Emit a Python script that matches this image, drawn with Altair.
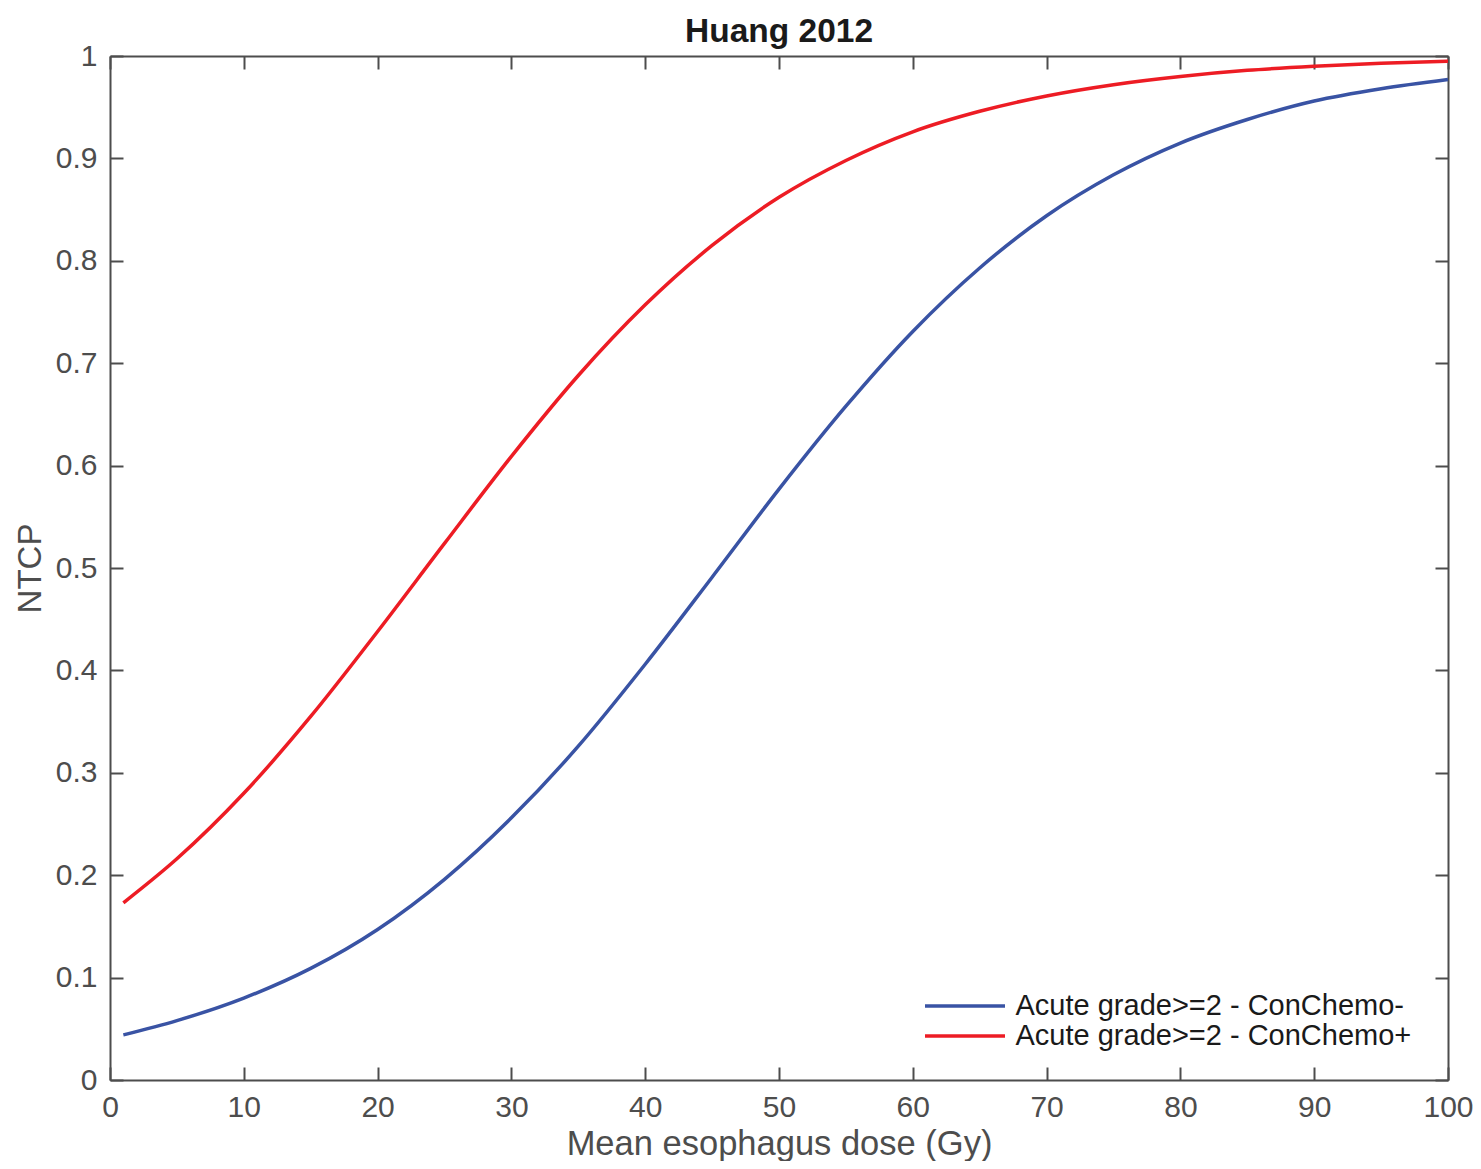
import altair as alt
import pandas as pd

# Mean esophagus dose (Gy)
dose = [1, 5, 10, 15, 20, 25, 30, 35, 40, 45, 50, 55, 60, 65, 70, 75, 80, 85, 90, 95, 100]
# NTCP
ntcp_minus = [0.044, 0.058, 0.080, 0.109, 0.147, 0.196, 0.256, 0.326, 0.406, 0.491, 0.577,
              0.658, 0.731, 0.793, 0.844, 0.884, 0.915, 0.938, 0.956, 0.968, 0.977]
ntcp_plus = [0.173, 0.216, 0.280, 0.355, 0.438, 0.524, 0.609, 0.688, 0.757, 0.815, 0.862,
             0.898, 0.926, 0.946, 0.961, 0.972, 0.980, 0.986, 0.990, 0.993, 0.995]
series_names = ["Acute grade>=2 - ConChemo-", "Acute grade>=2 - ConChemo+"]
series_colors = ["#3953a4", "#ed1c24"]
x_ticks = [0, 10, 20, 30, 40, 50, 60, 70, 80, 90, 100]
y_ticks = [0, 0.1, 0.2, 0.3, 0.4, 0.5, 0.6, 0.7, 0.8, 0.9, 1]
chart_title = ["Huang 2012"]

rows = []
for name, vals in zip(series_names, [ntcp_minus, ntcp_plus]):
    for d, v in zip(dose, vals):
        rows.append({"dose": d, "ntcp": v, "series": name})
df = pd.DataFrame(rows)

W, H = 1338, 1024
FONT = "Liberation Sans"
AX = "#4d4d4d"

common_axis = dict(grid=False, tickSize=13, tickWidth=2, tickColor=AX,
                   domainColor=AX, domainWidth=2, labelFont=FONT, labelFontSize=30,
                   labelColor=AX, titleFont=FONT, titleColor=AX,
                   titleFontWeight="normal", labelOverlap=False, labelFlush=False,
                   labelBound=False)

xscale = alt.Scale(domain=[0, 100], nice=False, zero=False)
yscale = alt.Scale(domain=[0, 1], nice=False, zero=False)

lines = alt.Chart(df).mark_line(strokeWidth=3.5, interpolate="monotone").encode(
    x=alt.X("dose:Q", scale=xscale,
            axis=alt.Axis(orient="top", offset=-H, values=x_ticks, format="d",
                          labelPadding=-49, labelBaseline="alphabetic",
                          title="Mean esophagus dose (Gy)", titleY=74, titleFontSize=34.5,
                          titleBaseline="alphabetic", **common_axis)),
    y=alt.Y("ntcp:Q", scale=yscale,
            axis=alt.Axis(orient="right", offset=-W, values=y_ticks, format="~g",
                          labelPadding=-26, labelAlign="right", labelBaseline="middle",
                          title="NTCP", titleX=-70, titleY=H / 2, titleAngle=270,
                          titleFontSize=33, titleAlign="center",
                          titleBaseline="alphabetic", **common_axis)),
    color=alt.Color("series:N",
                    scale=alt.Scale(domain=series_names, range=series_colors),
                    legend=alt.Legend(title=None, orient="none", legendX=840.5, legendY=935.5,
                                      symbolType="M-4,0H4", symbolSize=400,
                                      symbolStrokeWidth=3.5, labelFont=FONT,
                                      labelFontSize=29, labelColor="#1a1a1a",
                                      labelLimit=0, labelOffset=36, rowPadding=0,
                                      padding=0)),
)

frame = alt.Chart(df).mark_line(opacity=0).encode(
    x=alt.X("dose:Q", scale=xscale,
            axis=alt.Axis(orient="bottom", offset=-H, values=x_ticks, labels=False,
                          title=None, **common_axis)),
    y=alt.Y("ntcp:Q", scale=yscale,
            axis=alt.Axis(orient="left", offset=-W, values=y_ticks, labels=False,
                          title=None, **common_axis)),
    detail="series:N",
)

title = alt.Chart(pd.DataFrame({"t": chart_title})).mark_text(
    font=FONT, fontSize=33.5, fontWeight="bold", color="#1a1a1a",
    align="center", baseline="alphabetic",
).encode(text="t:N", x=alt.value(W / 2), y=alt.value(-14))

chart = alt.layer(lines, frame, title).properties(
    width=W, height=H,
    autosize=alt.AutoSizeParams(type="none"),
    padding={"left": 102, "top": 48, "right": 25, "bottom": 81},
).configure_view(stroke=None).configure(background="white")

chart.save("out.html", embed_options={"renderer": "svg", "actions": False})
